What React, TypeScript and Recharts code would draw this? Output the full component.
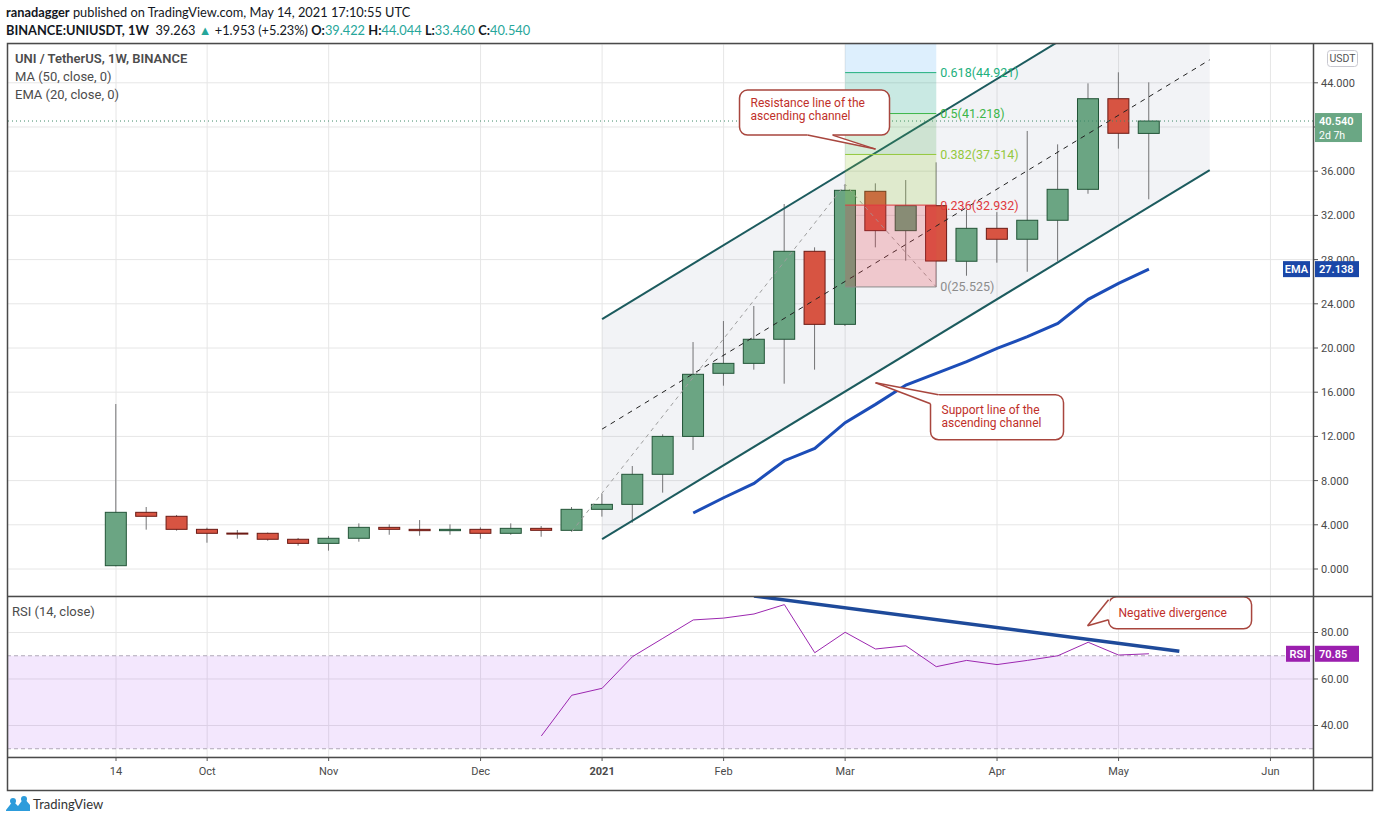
import {
  Area,
  Bar,
  CartesianGrid,
  ComposedChart,
  Line,
  ReferenceArea,
  ReferenceDot,
  ReferenceLine,
  XAxis,
  YAxis,
} from "recharts";

// weekly candles, index 0 = week of Sep 14 2020, last = week of May 10 2021
const opens = [0.3, 5.13, 4.77, 3.59, 3.25, 3.23, 2.69, 2.32, 2.78, 3.77, 3.59, 3.47, 3.59, 3.23, 3.68, 3.5, 5.4, 5.85, 8.57, 12.0, 17.71, 18.61, 20.79, 28.75, 22.14, 34.18, 30.62, 32.88, 27.85, 30.83, 29.84, 31.56, 34.36, 42.56, 39.42];
const highs = [14.93, 5.61, 4.89, 3.74, 3.53, 3.3, 2.81, 2.99, 4.13, 4.04, 4.43, 4.04, 3.77, 4.13, 3.89, 5.61, 6.79, 9.32, 12.19, 20.54, 22.44, 23.8, 33.03, 29.11, 34.8, 34.9, 35.2, 36.8, 32.49, 32.3, 39.64, 38.43, 43.95, 44.95, 44.04];
const lows = [0.24, 3.56, 3.47, 2.38, 2.74, 2.56, 2.11, 1.66, 2.47, 3.1, 3.01, 3.1, 2.74, 3.1, 2.92, 3.38, 4.74, 4.19, 6.91, 10.77, 16.59, 18.04, 16.77, 18.04, 21.99, 29.11, 27.9, 25.525, 26.54, 27.72, 26.9, 27.85, 33.96, 38.04, 33.46];
const closes = [5.13, 4.77, 3.59, 3.23, 3.2, 2.69, 2.32, 2.78, 3.77, 3.59, 3.47, 3.59, 3.23, 3.68, 3.5, 5.4, 5.85, 8.57, 12.0, 17.62, 18.61, 20.79, 28.75, 22.14, 34.27, 30.62, 32.88, 27.87, 30.83, 29.84, 31.56, 34.36, 42.56, 39.43, 40.54];

const emaStart = 19;
const emaValues = [5.07, 6.45, 7.75, 9.8, 10.92, 13.24, 14.9, 16.65, 17.71, 18.77, 19.97, 21.02, 22.23, 24.4, 25.85, 27.14];

const rsiStart = 14;
const rsiValues = [35.5, 53.0, 56.0, 69.6, 77.5, 85.4, 86.2, 87.96, 92.0, 71.3, 80.1, 72.9, 74.3, 65.3, 68.0, 66.2, 68.0, 70.0, 75.8, 70.3, 70.85];

const tickWeeks = [0, 3, 7, 12, 16, 20, 24, 29, 33, 38];
const tickLabels = ["14", "Oct", "Nov", "Dec", "2021", "Feb", "Mar", "Apr", "May", "Jun"];
const priceTicks = [0, 4, 8, 12, 16, 20, 24, 28, 32, 36, 40, 44];
const rsiTicks = [40, 60, 80];

// ascending channel drawing
const channelWeeks = [16, 36];
const channelLower = [2.71, 36.1];
const channelMid = [12.66, 46.08];
const channelUpper = [22.62, 56.06];

// trend based fib: anchors and levels
const fibWeeks = [15, 24, 27];
const fibAnchors = [3.38, 34.8, 25.525];
const fibRatios = ["0", "0.236", "0.382", "0.5", "0.618"];
const fibPrices = [25.525, 32.932, 37.514, 41.218, 44.921];

const divergenceWeeks = [21, 35];
const divergenceRsi = [95.7, 71.9];

const lastPrice = 40.54;
const lastEma = 27.138;
const lastRsi = 70.85;

const xDomain = [-3.555, 39.4];
const priceDomain = [-2.443, 47.511];
const rsiDomain = [26.45, 95.7];

const FONT = "Roboto, 'Liberation Sans', sans-serif";
const theme = {
  grid: "#e6e6e6",
  axisText: "#4a4a4a",
  up: "#6ba583",
  upEdge: "#225437",
  down: "#d75442",
  downEdge: "#6b1a14",
  wick: "#737375",
  channel: "#1c5b5e",
  channelFill: "#6b7a99",
  ema: "#1c4db8",
  rsi: "#9c27b0",
  rsiBand: "#8a0ff0",
  divergence: "#1e4a9a",
  callout: "#a8463e",
  calloutText: "#c0302a",
};
const fibLineColors = ["#8c8c8c", "#e0393e", "#94c83d", "#3cb64a", "#22b07d"];
const fibZoneColors = ["#e8404a", "#9ccc3a", "#4caf50", "#089981", "#64b5f6"];

const pick = (weeks: number[], vals: number[], i: number) => {
  const k = weeks.indexOf(i);
  return k < 0 ? null : vals[k];
};

const mainRows = Array.from({ length: 37 }, (_, i) => {
  const has = i < opens.length;
  return {
    week: i,
    open: has ? opens[i] : null,
    high: has ? highs[i] : null,
    low: has ? lows[i] : null,
    close: has ? closes[i] : null,
    range: has ? [lows[i], highs[i]] : null,
    ema: i >= emaStart && i - emaStart < emaValues.length ? emaValues[i - emaStart] : null,
    lower: pick(channelWeeks, channelLower, i),
    mid: pick(channelWeeks, channelMid, i),
    upper: pick(channelWeeks, channelUpper, i),
    fibPath: pick(fibWeeks, fibAnchors, i),
  };
});

const channelRows = channelWeeks.map((w, k) => ({
  week: w,
  band: [channelLower[k], channelUpper[k]],
}));

const rsiRows = Array.from({ length: 37 }, (_, i) => ({
  week: i,
  rsi: i >= rsiStart && i - rsiStart < rsiValues.length ? rsiValues[i - rsiStart] : null,
  divergence: pick(divergenceWeeks, divergenceRsi, i),
}));

function Candle(props: any) {
  const { x, width, payload } = props;
  let { y, height } = props;
  if (!payload || payload.open == null || height == null) return null;
  if (height < 0) {
    y += height;
    height = -height;
  }
  const { open, close, high, low } = payload;
  const ppu = height / (high - low);
  const yOf = (v: number) => y + (high - v) * ppu;
  const up = close >= open;
  const top = yOf(Math.max(open, close));
  const bot = yOf(Math.min(open, close));
  const cx = x + width / 2;
  return (
    <g>
      <line x1={cx} x2={cx} y1={y} y2={y + height} stroke={theme.wick} strokeWidth={1} />
      <rect
        x={x + 0.5}
        y={top}
        width={width - 1}
        height={Math.max(bot - top, 1)}
        fill={up ? theme.up : theme.down}
        stroke={up ? theme.upEdge : theme.downEdge}
        strokeWidth={1}
      />
    </g>
  );
}

type CalloutSpec = {
  box: number[];
  base: number[];
  lines: string[];
  text: number[];
};

function Callout({ cx, cy, spec }: { cx: number; cy: number; spec: CalloutSpec }) {
  const [bx, by, bw, bh] = spec.box;
  const [ax, ay, ex, ey] = spec.base;
  return (
    <g>
      <rect x={cx + bx} y={cy + by} width={bw} height={bh} rx={8} fill="#fff" stroke={theme.callout} strokeWidth={1.5} />
      <polygon points={`${cx + ax},${cy + ay} ${cx},${cy} ${cx + ex},${cy + ey}`} fill="#fff" />
      <line x1={cx + ax} y1={cy + ay} x2={cx + ex} y2={cy + ey} stroke="#fff" strokeWidth={2.5} />
      <line x1={cx + ax} y1={cy + ay} x2={cx} y2={cy} stroke={theme.callout} strokeWidth={1.5} />
      <line x1={cx + ex} y1={cy + ey} x2={cx} y2={cy} stroke={theme.callout} strokeWidth={1.5} />
      {spec.lines.map((t, k) => (
        <text
          key={t}
          x={cx + spec.text[0]}
          y={cy + spec.text[1] + k * 13}
          fill={theme.calloutText}
          fontSize={12}
          fontFamily={FONT}
        >
          {t}
        </text>
      ))}
    </g>
  );
}

const resistanceNote: CalloutSpec = {
  box: [-136, -59, 150, 45],
  base: [-68, -14, -43, -14],
  lines: ["Resistance line of the", "ascending channel"],
  text: [-125, -42],
};
const supportNote: CalloutSpec = {
  box: [55, 12, 133, 45],
  base: [63, 12, 55, 21],
  lines: ["Support line of the", "ascending channel"],
  text: [66, 31],
};
const divergenceNote: CalloutSpec = {
  box: [21, -29, 143, 32],
  base: [21, -26, 21, -6],
  lines: ["Negative divergence"],
  text: [31, -9],
};

function AxisTag(props: any) {
  const { viewBox, value, name, color, sub, nameW = 27 } = props;
  const x = viewBox.x + viewBox.width;
  const y = viewBox.y;
  return (
    <g fontFamily={FONT} fontSize={11} fontWeight={600}>
      {name && (
        <>
          <rect x={x - nameW - 3} y={y - 8} width={nameW} height={16} fill={color} />
          <text x={x - 3 - nameW / 2} y={y + 4} fill="#fff" textAnchor="middle">
            {name}
          </text>
        </>
      )}
      <rect x={x + 2} y={y - 8} width={sub ? 47 : 44} height={sub ? 29 : 16} fill={color} />
      <text x={x + 6} y={y + 4} fill="#fff">
        {value}
      </text>
      {sub && (
        <text x={x + 6} y={y + 17.5} fill="#fff" fontWeight={400} fontSize={10.5}>
          {sub}
        </text>
      )}
    </g>
  );
}

function FibLabel(props: any) {
  const { viewBox, text, color } = props;
  return (
    <text
      x={viewBox.x + viewBox.width + 4}
      y={viewBox.y + 4.5}
      fill={color}
      fontSize={12.5}
      fontFamily={FONT}
    >
      {text}
    </text>
  );
}

function TimeTick(props: any) {
  const { x, y, payload } = props;
  const label = tickLabels[tickWeeks.indexOf(payload.value)];
  return (
    <text
      x={x}
      y={y + 12}
      textAnchor="middle"
      fill={theme.axisText}
      fontSize={11}
      fontFamily={FONT}
      fontWeight={label === "2021" ? 700 : 400}
    >
      {label}
    </text>
  );
}

const CHART_LEFT = 8;
const CHART_W = 1364;
const AXIS_W = 59;
const MAIN_TOP = 44;
const MAIN_H = 552;
const RSI_TOP = 596;
const RSI_H = 195;

const abs = (left: number, top: number) => ({ position: "absolute" as const, left, top });

function PriceAxes({ showTicks }: { showTicks: boolean }) {
  return (
    <>
      <XAxis type="number" dataKey="week" domain={xDomain} hide allowDataOverflow />
      <YAxis
        orientation="right"
        width={AXIS_W}
        domain={priceDomain}
        ticks={priceTicks}
        allowDataOverflow
        axisLine={false}
        tickLine={showTicks ? { stroke: "#555" } : false}
        tickSize={5}
        tickMargin={3}
        tick={showTicks ? { fill: theme.axisText, fontSize: 11, fontFamily: FONT } : false}
        // 40.000 sits under the last-price tag, as on the original
        tickFormatter={(v: number) => (v === 40 ? "" : v.toFixed(3))}
      />
    </>
  );
}

export default function App() {
  const textStyle = { fontFamily: FONT, fontSize: 13, color: "#4c4c4c", whiteSpace: "nowrap" as const };
  const headStyle = { fontFamily: "Lato, sans-serif", fontSize: 12.8, color: "#131722", whiteSpace: "nowrap" as const };
  const teal = { color: "#26a69a" };
  return (
    <div style={{ position: "relative", width: 1376, height: 823, background: "#fff", overflow: "hidden" }}>
      <style>{"body{margin:0}"}</style>
      <div style={{ ...abs(6, 4), ...headStyle }}>
        <b>ranadagger</b> published on TradingView.com, May 14, 2021 17:10:55 UTC
      </div>
      <div style={{ ...abs(6, 22), ...headStyle }}>
        <b>BINANCE:UNIUSDT, 1W</b>&nbsp; 39.263 <span style={teal}>▲</span> +1.953 (+5.23%) <b>O:</b>
        <span style={teal}>39.422</span> <b>H:</b>
        <span style={teal}>44.044</span> <b>L:</b>
        <span style={teal}>33.460</span> <b>C:</b>
        <span style={teal}>40.540</span>
      </div>

      {/* main pane: grid and channel fill */}
      <div style={abs(CHART_LEFT, MAIN_TOP)}>
        <ComposedChart width={CHART_W} height={MAIN_H} data={channelRows} margin={{ top: 0, right: 0, bottom: 0, left: 0 }}>
          <CartesianGrid stroke={theme.grid} verticalValues={tickWeeks} />
          <PriceAxes showTicks />
          <Area dataKey="band" fill={theme.channelFill} fillOpacity={0.09} stroke="none" isAnimationActive={false} />
        </ComposedChart>
      </div>

      {/* main pane: candles, EMA and the channel drawing */}
      <div style={abs(CHART_LEFT, MAIN_TOP)}>
        <ComposedChart width={CHART_W} height={MAIN_H} data={mainRows} margin={{ top: 0, right: 0, bottom: 0, left: 0 }}>
          <PriceAxes showTicks={false} />
          <Line dataKey="ema" stroke={theme.ema} strokeWidth={3} dot={false} connectNulls isAnimationActive={false} />
          <Bar dataKey="range" barSize={22} shape={(p: any) => <Candle {...p} />} isAnimationActive={false} />
          <Line dataKey="fibPath" stroke="#9e9e9e" strokeDasharray="4 4" strokeWidth={1} dot={false} connectNulls isAnimationActive={false} />
          <Line dataKey="mid" stroke="#222" strokeDasharray="5 5" strokeWidth={1} dot={false} connectNulls isAnimationActive={false} />
          <Line dataKey="upper" stroke={theme.channel} strokeWidth={2} dot={false} connectNulls isAnimationActive={false} />
          <Line dataKey="lower" stroke={theme.channel} strokeWidth={2} dot={false} connectNulls isAnimationActive={false} />
          <ReferenceLine
            y={lastPrice}
            stroke="#3f8a68"
            strokeDasharray="1 3"
            label={(lp: any) => <AxisTag viewBox={lp.viewBox} value="40.540" sub="2d 7h" color="#6aa784" />}
          />
          <ReferenceLine
            y={lastEma}
            stroke="none"
            strokeOpacity={0}
            label={(lp: any) => <AxisTag viewBox={lp.viewBox} value="27.138" name="EMA" color="#1a47a8" />}
          />
        </ComposedChart>
      </div>

      {/* main pane: fib zones drawn over the candles, then the notes */}
      <div style={abs(CHART_LEFT, MAIN_TOP)}>
        <ComposedChart width={CHART_W} height={MAIN_H} data={channelRows} margin={{ top: 0, right: 0, bottom: 0, left: 0 }}>
          <PriceAxes showTicks={false} />
          {fibPrices.map((p, k) => (
            <ReferenceArea
              key={`zone-${k}`}
              x1={fibWeeks[1]}
              x2={fibWeeks[2]}
              y1={p}
              y2={k + 1 < fibPrices.length ? fibPrices[k + 1] : priceDomain[1]}
              fill={fibZoneColors[k]}
              fillOpacity={k === 0 ? 0.24 : 0.22}
              stroke="none"
              ifOverflow="hidden"
            />
          ))}
          {fibPrices.map((p, k) => (
            <ReferenceLine
              key={`lvl-${k}`}
              segment={[
                { x: fibWeeks[1], y: p },
                { x: fibWeeks[2], y: p },
              ]}
              stroke={fibLineColors[k]}
              strokeWidth={1}
              label={(lp: any) => (
                <FibLabel viewBox={lp.viewBox} text={`${fibRatios[k]}(${p.toFixed(3)})`} color={fibLineColors[k]} />
              )}
            />
          ))}
          <ReferenceDot x={25} y={38.0} r={0} shape={(p: any) => <Callout cx={p.cx} cy={p.cy} spec={resistanceNote} />} />
          <ReferenceDot x={25} y={16.86} r={0} shape={(p: any) => <Callout cx={p.cx} cy={p.cy} spec={supportNote} />} />
        </ComposedChart>
      </div>

      <div style={{ ...abs(15, 51), ...textStyle, fontWeight: 600 }}>UNI / TetherUS, 1W, BINANCE</div>
      <div style={{ ...abs(15, 69), ...textStyle }}>MA (50, close, 0)</div>
      <div style={{ ...abs(15, 87), ...textStyle }}>EMA (20, close, 0)</div>

      {/* RSI pane with time axis */}
      <div style={abs(CHART_LEFT, RSI_TOP)}>
        <ComposedChart width={CHART_W} height={RSI_H} data={rsiRows} margin={{ top: 0, right: 0, bottom: 0, left: 0 }}>
          <CartesianGrid stroke={theme.grid} />
          <XAxis
            type="number"
            dataKey="week"
            domain={xDomain}
            ticks={tickWeeks}
            allowDataOverflow
            height={34}
            axisLine={false}
            tickLine={{ stroke: "#555" }}
            tickSize={4}
            tick={<TimeTick />}
          />
          <YAxis
            orientation="right"
            width={AXIS_W}
            domain={rsiDomain}
            ticks={rsiTicks}
            allowDataOverflow
            axisLine={false}
            tickLine={{ stroke: "#555" }}
            tickSize={5}
            tickMargin={3}
            tick={{ fill: theme.axisText, fontSize: 11, fontFamily: FONT }}
            tickFormatter={(v: number) => v.toFixed(2)}
          />
          <ReferenceArea y1={30} y2={70} fill={theme.rsiBand} fillOpacity={0.1} stroke="none" />
          <ReferenceLine y={70} stroke="#b0a8b8" strokeDasharray="4 3" />
          <ReferenceLine y={30} stroke="#b0a8b8" strokeDasharray="4 3" />
          <Line dataKey="rsi" stroke={theme.rsi} strokeWidth={1} dot={false} isAnimationActive={false} />
          <Line dataKey="divergence" stroke={theme.divergence} strokeWidth={3.5} dot={false} connectNulls isAnimationActive={false} />
          <ReferenceLine
            y={lastRsi}
            stroke="none"
            strokeOpacity={0}
            label={(lp: any) => <AxisTag viewBox={lp.viewBox} value="70.85" name="RSI" nameW={24} color="#9b1fae" />}
          />
          <ReferenceDot x={31.98} y={82.9} r={0} shape={(p: any) => <Callout cx={p.cx} cy={p.cy} spec={divergenceNote} />} />
        </ComposedChart>
      </div>
      <div style={{ ...abs(12, 604), ...textStyle }}>RSI (14, close)</div>

      {/* pane frame */}
      <svg width={1376} height={823} style={{ ...abs(0, 0), pointerEvents: "none" }}>
        <rect x={7.5} y={43.5} width={1365} height={747} fill="none" stroke="#4a4a4a" strokeWidth={1.5} />
        <line x1={1313.5} x2={1313.5} y1={43.5} y2={790.5} stroke="#4a4a4a" strokeWidth={1.5} />
        <line x1={7.5} x2={1372.5} y1={596.5} y2={596.5} stroke="#4a4a4a" strokeWidth={1.5} />
        <line x1={7.5} x2={1372.5} y1={757.5} y2={757.5} stroke="#4a4a4a" strokeWidth={1.5} />
        <rect x={1327.5} y={50.5} width={30} height={16} rx={3} fill="#fff" stroke="#c8c8d0" />
        <text x={1342.5} y={62} textAnchor="middle" fontSize={10.5} fontFamily={FONT} fill="#555">
          USDT
        </text>
        <g transform="translate(6,796)">
          <path d="M0 14 L7 5 L12 10 L18 2 L24 9 L24 15 L0 15 Z" fill="#2d9cdb" />
          <circle cx={7} cy={5} r={3} fill="#2d9cdb" />
          <circle cx={18} cy={3} r={3} fill="#2d9cdb" />
        </g>
        <text x={33} y={809} fontSize={13} fontFamily="Lato, sans-serif" fill="#333">
          TradingView
        </text>
      </svg>
    </div>
  );
}
